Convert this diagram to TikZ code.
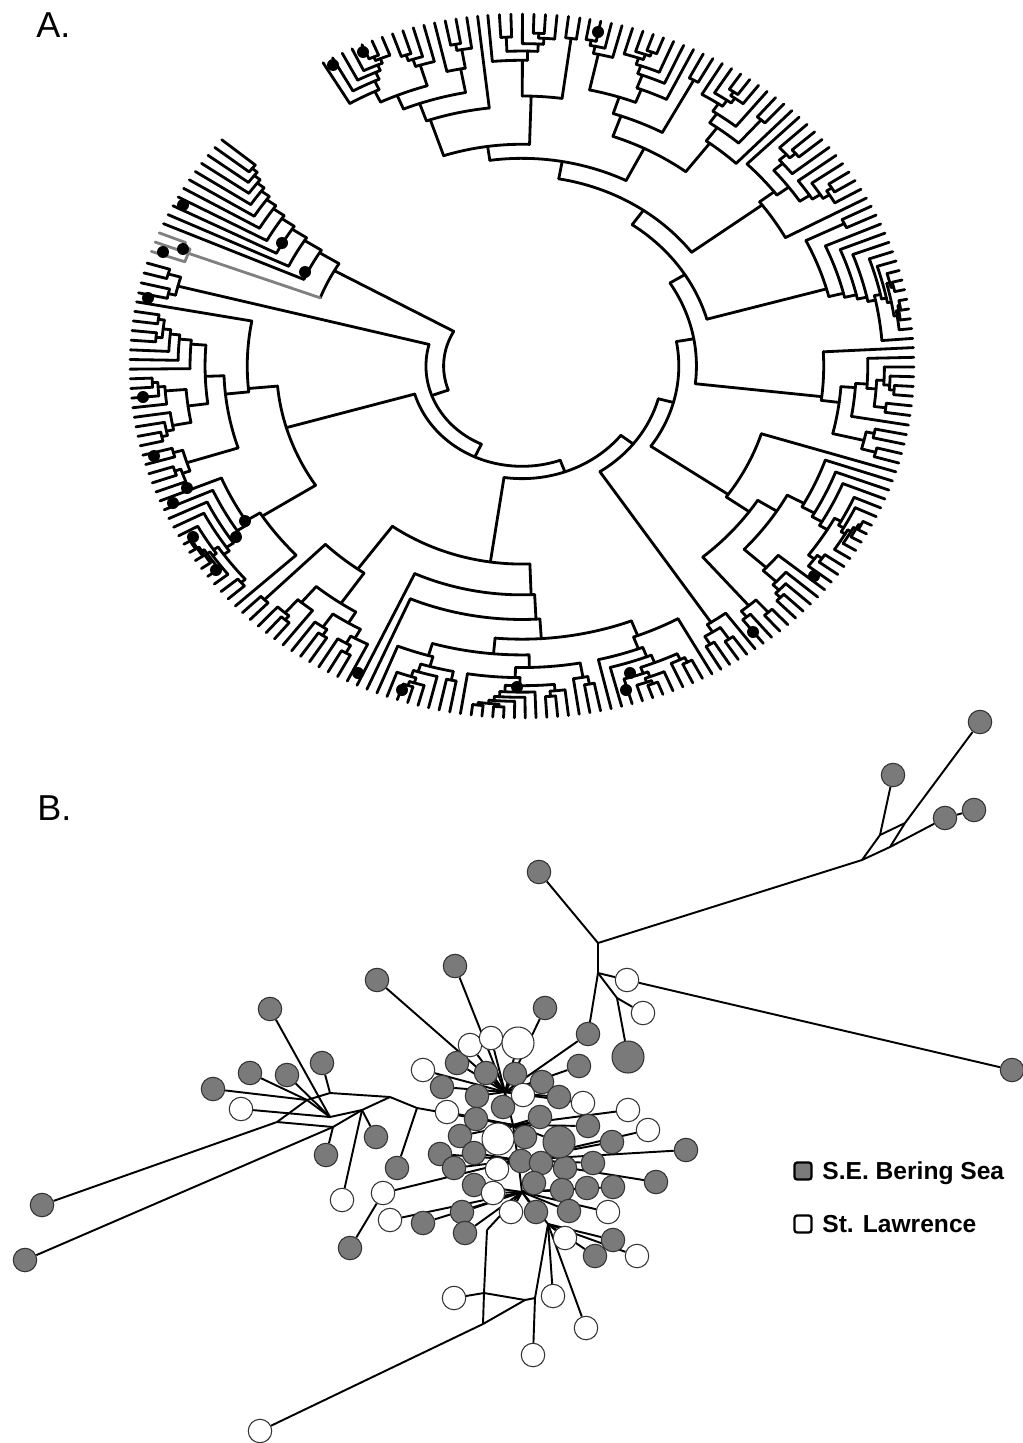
\documentclass[tikz,border=0pt]{standalone}
\usepackage{fontspec}
\setmainfont{Liberation Sans}
\usetikzlibrary{backgrounds}

% random subtree on tips \trLo..\trHi, hanging from radius \trP
\newcommand\growclade[3]{%
  \begingroup
  \edef\trLo{\the\numexpr#1\relax}\edef\trHi{\the\numexpr#2\relax}\edef\trP{#3}%
  \pgfmathsetmacro\trM{\cladeA+\cladeD*(\trLo+\trHi)/2}%
  \ifnum\trLo=\trHi\relax
    \draw (\trM:\trP) -- (\trM:1);
  \else
    \pgfmathtruncatemacro\trN{\trHi-\trLo+1}%
    \pgfmathsetmacro\trR{max(1-0.05*\trN^0.6*(0.75+0.5*rnd),\trP+0.2*(1-\trP))}%
    \pgfmathsetmacro\trU{rnd}%
    \ifnum\cladeMode=1\relax
      \edef\trS{\the\numexpr\trHi-1\relax}%
      \pgfmathsetmacro\trR{\trP+0.13*(1-\trP)}%
    \else
      \ifdim\trU pt<0.3pt \edef\trS{\the\numexpr\trHi-1\relax}%
      \else\ifdim\trU pt<0.45pt \edef\trS{\trLo}%
      \else \pgfmathtruncatemacro\trS{\trLo+floor(rnd*(\trN-1))}\fi\fi
    \fi
    \pgfmathsetmacro\trL{\cladeA+\cladeD*(\trLo+\trS)/2}%
    \pgfmathsetmacro\trH{\cladeA+\cladeD*(\trS+1+\trHi)/2}%
    \draw (\trM:\trP) -- (\trM:\trR);
    \draw (\trL:\trR) arc[start angle=\trL, end angle=\trH, radius=\trR];
    \growclade{\trLo}{\trS}{\trR}%
    \growclade{\the\numexpr\trS+1\relax}{\trHi}{\trR}%
  \fi
  \endgroup}

% clade: first tip angle, last tip angle, tips, parent radius, mode (1 = ladder)
\newcommand\drawclade[5]{%
  \pgfmathsetmacro\cladeA{#1}%
  \pgfmathsetmacro\cladeD{(#2-#1)/(#3-1)}%
  \def\cladeMode{#5}%
  \growclade{0}{#3-1}{#4}}

\begin{document}
\begin{tikzpicture}[x=0.02cm, y=-0.02cm,
    branch/.style={line width=1.6pt, line cap=round, line join=round},
    tipdot/.style={circle, fill=black, minimum size=0.24cm, inner sep=0pt},
    sea/.style={circle, draw=black!80, fill=black!52, line width=0.6pt, minimum size=0.47cm, inner sep=0pt},
    law/.style={sea, fill=white},
    big/.style={minimum size=0.64cm},
    link/.style={line width=1.1pt},
    legbox/.style={draw=black, line width=1.3pt, rounded corners=1.5pt, minimum size=0.34cm, inner sep=0pt},
    legtext/.style={font=\bfseries\fontsize{14}{16}\selectfont, anchor=base west, inner sep=0pt},
    panel/.style={font=\fontsize{20.5}{24}\selectfont, anchor=base west, inner sep=0pt}]

  \useasboundingbox (0,0) rectangle (1023,1443);

  % Panel labels
  \node[panel] (labA) at (36,38) {A.};
  \node[panel] (labB) at (37,820) {B.};

  % Tree
  \pgfmathsetseed{12}
  \begin{scope}[shift={(522,366)}, xscale=392, yscale=-352, branch]
    % backbone arcs
    \foreach \r/\a/\b in {0.2/150.5/200, 0.245/165.5/245, 0.285/196.25/290,
        0.32/261.75/322, 0.36/303.5/345, 0.40/325.25/370, 0.445/353.5/392,
        0.49/375.75/415, 0.54/396.75/440, 0.59/423.25/458, 0.63/448.25/468.5}
      \draw (\a:\r) arc[start angle=\a, end angle=\b, radius=\r];
    \foreach \a/\r/\s in {200/0.2/0.245, 245/0.245/0.285, 290/0.285/0.32,
        322/0.32/0.36, 345/0.36/0.40, 370/0.40/0.445, 392/0.445/0.49,
        415/0.49/0.54, 440/0.54/0.59, 458/0.59/0.63}
      \draw (\a:\r) -- (\a:\s);

    % fan clade
    \draw (150.5:0.2) -- (150.5:0.55);
    \draw (148.08:0.55) arc[start angle=148.08, end angle=159.38, radius=0.55];
    \drawclade{140}{156.15}{11}{0.55}{1}
    \begin{scope}[gray]
      \drawclade{157.77}{161}{3}{0.55}{0}
    \end{scope}

    % the other clades, counter-clockwise
    \drawclade{163}{168}{4}{0.245}{0}
    \drawclade{169.5}{223}{35}{0.285}{0}
    \drawclade{224.5}{299}{48}{0.32}{0}
    \drawclade{300.5}{306.5}{5}{0.36}{0}
    \drawclade{308}{342.5}{23}{0.40}{0}
    \drawclade{344}{363}{13}{0.445}{0}
    \drawclade{364.5}{387}{15}{0.49}{0}
    \drawclade{388.5}{405}{11}{0.54}{0}
    \drawclade{406.5}{440}{22}{0.59}{0}
    \drawclade{441.5}{455}{9}{0.63}{0}
    \drawclade{456.5}{480.5}{16}{0.63}{0}
  \end{scope}

  % marked tips
  \foreach \p [count=\i] in {(333,65),(363,52),(598,32),(183,205),(282,243),(305,272),
      (163,252),(183,249),(148,298),(143,397),(154,456),(187,488),(173,503),(245,521),
      (236,537),(193,537),(216,570),(358,673),(402,690),(517,687),(630,673),(626,690),
      (753,632),(814,576)}
    \node[tipdot] (d\i) at \p {};

  % Network: S.E. Bering Sea haplotypes
  \foreach \n/\x/\y in {g1/980/722, g2/893/775, g3/945/818, g4/974/810, g5/539/872,
      g6/1012/1070, g7/545/1008, g8/588/1034,
      c5/457/1063, c6/486/1073, c7/515/1074, c8/442/1087, c9/477/1096, c11/542/1082,
      c12/579/1066, c13/503/1107, c14/559/1097, c19/476/1119, c20/540/1117,
      c21/588/1126, c22/612/1142, c23/460/1136, c25/525/1137, c27/440/1154,
      c28/474/1153, c29/521/1161, c30/541/1163, c31/565/1168, c32/593/1163,
      c33/454/1168, c35/656/1182, c36/474/1185, c37/534/1183, c39/562/1190,
      c40/587/1188, c41/613/1187, c42/462/1212, c44/536/1212, c45/569/1211,
      c47/423/1223, c48/465/1233, c50/613/1240, c51/595/1256, c53/397/1168,
      c56/377/980, c57/455/966, c59/686/1150,
      k1/270/1009, k2/322/1063, k3/250/1073, k4/287/1075, k5/213/1089,
      k7/376/1137, k8/326/1155, k10/42/1205, k11/25/1260, k12/350/1248}
    \node[sea] (\n) at (\x,\y) {};
  \node[sea, big] (G9) at (628,1057) {};
  \node[sea, big] (C26) at (559,1142) {};

  % Network: St. Lawrence haplotypes
  \foreach \n/\x/\y in {w1/627/980, w2/643/1013, c1/470/1045, c2/491/1038, c4/423/1070,
      c10/523/1095, c15/583/1103, c16/628/1110, c17/648/1130, c18/447/1112,
      c34/497/1169, c38/493/1193, c43/511/1212, c46/608/1212, c49/565/1238,
      c52/637/1256, c54/383/1193, c55/390/1220, k6/241/1109, k9/342/1200,
      l1/454/1298, l2/553/1296, l3/586/1328, l4/533/1355, l5/260/1431}
    \node[law] (\n) at (\x,\y) {};
  \node[law, big] (C3) at (518,1043) {};
  \node[law, big] (C24) at (498,1139) {};

  % median vectors
  \foreach \n/\x/\y in {hA/862/860, hB/880/835, hC/905/823, hD/890/847, hE/598/943,
      hF/598/973, hG/617/998, m1/505/1092, m2/513/1125, m3/518/1160, m4/522/1192,
      m5/548/1224, q1/487/1230, q2/484/1293, q3/483/1324, q4/525/1300, q5/535/1298,
      la/307/1100, lb/330/1117, lc/330/1093, ld/362/1110, le/390/1097, lf/277/1122,
      lg/333/1127, lh/417/1108}
    \coordinate (\n) at (\x,\y);

  % Links
  \begin{scope}[on background layer]
    \foreach \u/\v in {hA/hB, hB/g2, hB/hC, hA/hD, hD/hC, hC/g1, hD/g3, g3/g4,
        hA/hE, hE/g5, hE/hF, hF/w1, w1/g6, hF/hG, hG/w2, hG/G9, hF/g8, g8/m1, g7/m1,
        m1/c56, m1/c57, m1/c1, m1/c2, m1/C3, m1/c4, m1/c5, m1/c6, m1/c7, m1/c8,
        m1/c9, m1/c10, m1/c11, m1/c12, m1/c13, m1/c14, m1/c15, m1/m2,
        m2/c16, m2/c18, m2/c19, m2/c20, m2/c21, m2/c23, m2/C24, m2/c25, m2/C26,
        m2/lh, m2/m3,
        m3/c17, m3/c22, m3/c27, m3/c28, m3/c29, m3/c30, m3/c31, m3/c32, m3/c33,
        m3/c34, m3/c35, m3/c54, m3/c59, m3/m4,
        m4/c36, m4/c37, m4/c38, m4/c39, m4/c40, m4/c41, m4/c42, m4/c43, m4/c44,
        m4/c45, m4/c46, m4/c47, m4/c48, m4/c55, m4/m5, m4/q1,
        m5/c49, m5/c50, m5/c51, m5/c52, m5/l2, m5/l3, m5/q5,
        lh/c53, c54/k12,
        q1/q2, q2/q3, l1/q2, q2/q4, q3/q4, q3/l5, q4/q5, q5/l4,
        k1/lb, k2/lc, k3/la, k4/lb, k5/la, k6/lb, k7/ld, k8/lg, k9/ld, k10/lf,
        k11/lg, la/lb, la/lf, lf/lg, lg/ld, lb/ld, lc/le, ld/le, le/lh, la/lc}
      \draw[link] (\u) -- (\v);
  \end{scope}

  % Legend
  \node[legbox, fill=black!52] (keysea) at (803,1171) {};
  \node[legbox, fill=white] (keylaw) at (803,1224) {};
  \node[legtext] (txtsea) at (822,1179) {S.E. Bering Sea};
  \node[legtext] (txtlaw) at (822,1232) {St. Lawrence};
\end{tikzpicture}
\end{document}
